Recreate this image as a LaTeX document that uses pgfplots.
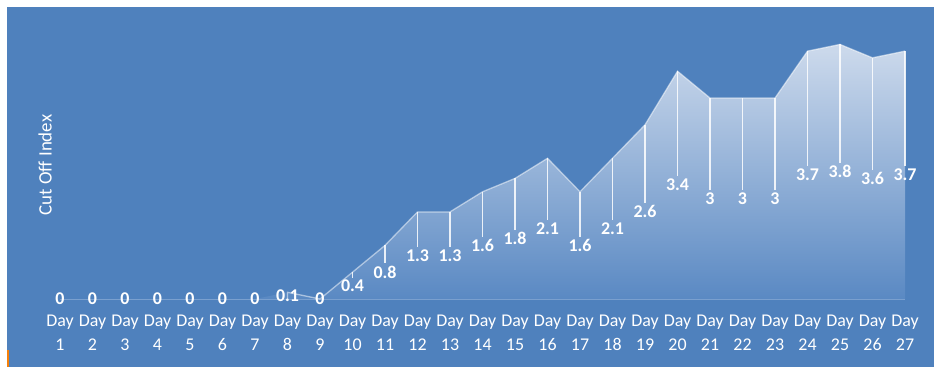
\documentclass[border=0pt]{standalone}
\usepackage{pgfplots}
\pgfplotsset{compat=1.18}
\usepackage{fontspec}
\setmainfont{Carlito}
\definecolor{bgblue}{RGB}{79,129,189}
\definecolor{topfill}{RGB}{205,218,236}
\definecolor{botfill}{RGB}{90,137,195}
\definecolor{axisline}{RGB}{122,160,207}
\begin{document}
\begin{tikzpicture}[x=1bp,y=1bp]
\fill[white] (0,0) rectangle (934,367);
\fill[bgblue] (7,0) rectangle (934,360);
\fill[orange!85!brown] (7,0) rectangle (9,17);
\node[rotate=90, text=white, font=\fontsize{19}{22}\selectfont] at (45,202) {Cut Off Index};
\begin{axis}[
  at={(60bp,68bp)}, anchor=south west,
  scale only axis, width=845bp, height=268bp,
  xmin=1, xmax=27, ymin=0, ymax=4,
  clip=false,
  axis line style={draw=none}, tick style={draw=none},
  ytick=\empty,
  xtick={1,...,27},
  xticklabels={{Day\\1},{Day\\2},{Day\\3},{Day\\4},{Day\\5},{Day\\6},{Day\\7},{Day\\8},{Day\\9},{Day\\10},{Day\\11},{Day\\12},{Day\\13},{Day\\14},{Day\\15},{Day\\16},{Day\\17},{Day\\18},{Day\\19},{Day\\20},{Day\\21},{Day\\22},{Day\\23},{Day\\24},{Day\\25},{Day\\26},{Day\\27}},
  xticklabel style={text=white, align=center, font=\fontsize{18}{24}\selectfont, inner sep=0pt, yshift=-16bp},
]
% gradient area
\addplot[draw=none, top color=topfill, bottom color=botfill] coordinates {
(1,0) (2,0) (3,0) (4,0) (5,0) (6,0) (7,0) (8,0.1) (9,0) (10,0.4) (11,0.8) (12,1.3) (13,1.3) (14,1.6) (15,1.8) (16,2.1) (17,1.6) (18,2.1) (19,2.6) (20,3.4) (21,3) (22,3) (23,3) (24,3.7) (25,3.8) (26,3.6) (27,3.7)
} \closedcycle;
% axis line
\addplot[axisline, line width=1bp, mark=none] coordinates {(1,0) (27,0)};
% top edge
\addplot[white, opacity=0.5, line width=1.3bp, mark=none] coordinates {
(8,0) (8,0.1) (9,0) (10,0.4) (11,0.8) (12,1.3) (13,1.3) (14,1.6) (15,1.8) (16,2.1) (17,1.6) (18,2.1) (19,2.6) (20,3.4) (21,3) (22,3) (23,3) (24,3.7) (25,3.8) (26,3.6) (27,3.7)
};
% drop lines
\addplot[draw=none, mark=none,
  error bars/.cd, y dir=minus, y explicit, error mark=none,
  error bar style={draw=white, draw opacity=0.85, line width=1.1bp}] coordinates {
(10,0.4) -= (0,0.09)
(11,0.8) -= (0,0.27)
(12,1.3) -= (0,0.52)
(13,1.3) -= (0,0.52)
(14,1.6) -= (0,0.67)
(15,1.8) -= (0,0.77)
(16,2.1) -= (0,0.92)
(17,1.6) -= (0,0.67)
(18,2.1) -= (0,0.92)
(19,2.6) -= (0,1.17)
(20,3.4) -= (0,1.57)
(21,3) -= (0,1.37)
(22,3) -= (0,1.37)
(23,3) -= (0,1.37)
(24,3.7) -= (0,1.72)
(25,3.8) -= (0,1.77)
(26,3.6) -= (0,1.67)
(27,3.7) -= (0,1.72)
};
% data labels
\addplot[draw=none, mark=none, nodes near coords, point meta=explicit symbolic,
  every node near coord/.style={text=white, anchor=center, inner sep=0pt, font=\bfseries\fontsize{18}{21}\selectfont}] coordinates {
(1,0) [0] (2,0) [0] (3,0) [0] (4,0) [0] (5,0) [0] (6,0) [0] (7,0) [0] (8,0.05) [0.1] (9,0) [0]
(10,0.2) [0.4] (11,0.4) [0.8] (12,0.65) [1.3] (13,0.65) [1.3] (14,0.8) [1.6] (15,0.9) [1.8]
(16,1.05) [2.1] (17,0.8) [1.6] (18,1.05) [2.1] (19,1.3) [2.6] (20,1.7) [3.4] (21,1.5) [3]
(22,1.5) [3] (23,1.5) [3] (24,1.85) [3.7] (25,1.9) [3.8] (26,1.8) [3.6] (27,1.85) [3.7]
};
\end{axis}
\end{tikzpicture}
\end{document}
